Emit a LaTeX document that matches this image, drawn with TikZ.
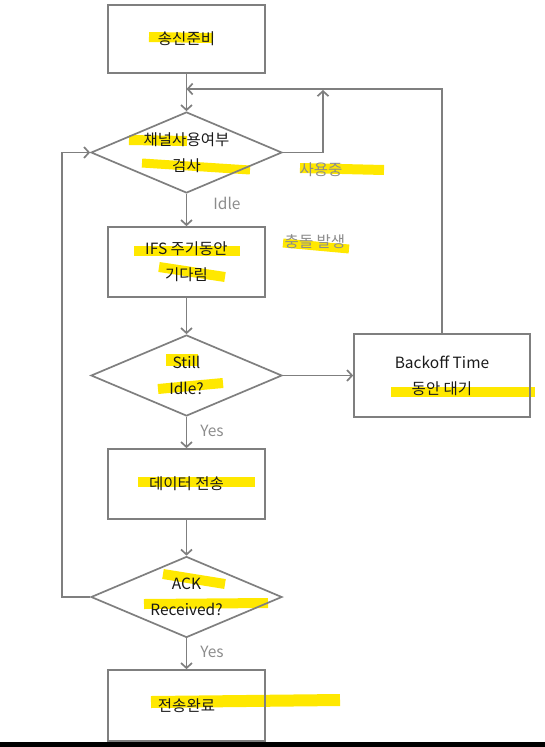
\documentclass[tikz,border=0pt]{standalone}
\usepackage{fontspec}
\newfontfamily\kr{Noto Sans CJK KR}
\usetikzlibrary{shapes.geometric,arrows.meta}
\definecolor{linegray}{HTML}{7F7F7F}
\definecolor{labelgray}{HTML}{8C8C8C}
\definecolor{textgray}{HTML}{1A1A1A}
\definecolor{marker}{HTML}{FFE800}

\begin{document}
\begin{tikzpicture}[x=1pt,y=-1pt,>={Straight Barb[length=5pt,width=11pt]}]
        \tikzstyle{every node} = [font=\kr\fontsize{15.5}{26}\selectfont, text=textgray]
        \tikzstyle{proc} = [rectangle, draw=linegray, line width=1.7pt, minimum width=157pt, minimum height=70pt, align=center]
        \tikzstyle{decide} = [diamond, draw=linegray, line width=1.7pt, aspect=2.35, minimum width=191pt, minimum height=81pt, inner sep=0pt, align=center]
        \tikzstyle{cond} = [text=labelgray]
        \tikzstyle{conn} = [draw=linegray, line width=1.7pt]
        \tikzstyle{hl} = [draw=marker, line width=10pt]

        \useasboundingbox (0,0) rectangle (545,747);

        % marker strokes over the texts
        \draw[hl] (149,37) -- (213,38);
        \draw[hl] (129,140) -- (187,141);
        \draw[hl, line width=9pt] (142,163) -- (250,170);
        \draw[hl] (300,168) -- (384,170);
        \draw[hl] (134,251) -- (240,251);
        \draw[hl] (159,267) -- (225,277);
        \draw[hl, line width=9pt] (283,243) -- (349,249);
        \draw[hl, line width=12pt] (166,360) -- (198,360);
        \draw[hl] (158,389) -- (223,383);
        \draw[hl] (391,392) -- (535,392);
        \draw[hl] (138,482) -- (255,482);
        \draw[hl] (163,574) -- (225,584);
        \draw[hl] (144,604) -- (268,603);
        \draw[hl, line width=12pt] (151,702) -- (340,700);

        \node[proc, minimum height=68pt] (0) at (186.5,39) {송신준비};
        \node[decide] (1) at (186.5,152.5) {채널사용여부\\검사};
        \node[proc] (2) at (186.5,262) {IFS 주기동안\\기다림};
        \node[decide] (3) at (186.5,375.5) {Still\\Idle?};
        \node[proc, minimum width=176pt, minimum height=83pt] (4) at (442,375.5) {Backoff Time\\동안 대기};
        \node[proc] (5) at (186.5,484) {데이터 전송};
        \node[decide] (6) at (186.5,597) {ACK\\Received?};
        \node[proc, minimum height=71pt] (7) at (186.5,705.5) {전송완료};

        \node[cond] (idle) at (227,203) {Idle};
        \node[cond] (busy) at (321,170) {사용중};
        \node[cond] (coll) at (315,242) {충돌 발생};
        \node[cond] (yes1) at (212,431) {Yes};
        \node[cond] (yes2) at (212,652) {Yes};

        \coordinate (m) at (186.5,89);
        \coordinate (u) at (323,90);

        \foreach \from/\to in {0/1, 1/2, 2/3, 3/5, 5/6, 6/7, 3/4}
            \draw[->, conn] (\from) -- (\to);
        \draw[->, conn] (4.north) |- (m);
        \draw[->, conn] (1.east) -| (u);
        \draw[->, conn] (6.west) -- ++(-28,0) |- (1.west);

        \fill[black] (0,742) rectangle (545,747);
      \end{tikzpicture}
\end{document}
